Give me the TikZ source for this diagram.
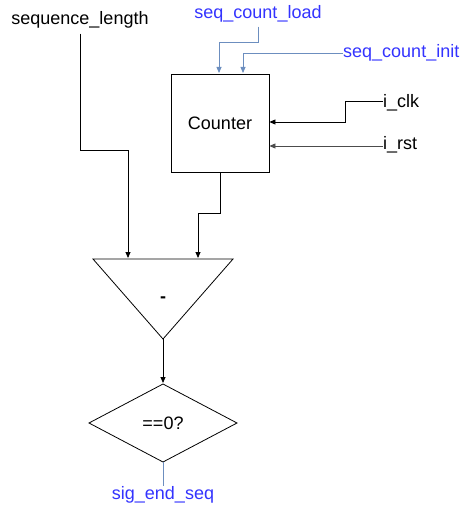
\documentclass[tikz,border=0pt]{standalone}
\usepackage{fontspec}
\setmainfont{Liberation Sans}
\usetikzlibrary{arrows.meta}
\definecolor{sigblue}{HTML}{3333FF}
\definecolor{wireblue}{HTML}{6C8EBF}
\begin{document}
\begin{tikzpicture}[x=1pt,y=-1pt,
  every node/.style={font=\fontsize{18}{21}\selectfont, inner sep=0pt},
  lbl/.style={text=black},
  blbl/.style={text=sigblue},
  wire/.style={draw=black, line width=0.8pt},
  bwire/.style={draw=wireblue, line width=0.8pt},
  arr/.style={-{Triangle[length=6pt,width=5pt]}},
  blockshape/.style={draw=black, line width=0.8pt, fill=white}]
\useasboundingbox (0,0) rectangle (459,508);
% labels
\node[lbl] (seqlen) at (80,20) {sequence\_length};
\node[blbl] (load) at (258,14) {seq\_count\_load};
\node[blbl, anchor=west] (init) at (343,53) {seq\_count\_init};
\node[lbl, anchor=west] (clk) at (383,103) {i\_clk};
\node[lbl, anchor=west] (rst) at (383,145) {i\_rst};
\node[blbl] (endseq) at (163,495) {sig\_end\_seq};
% counter
\node[blockshape, minimum width=98pt, minimum height=98pt] (cnt) at (220,123) {Counter};
% triangle subtractor
\path[blockshape] (93,259) -- (233,259) -- (163,339) -- cycle;
\coordinate (tl) at (128,258);
\coordinate (tr) at (198,258);
\coordinate (tb) at (163,339);
\node[font=\fontsize{18}{21}\selectfont\bfseries] (minus) at (163,300) {-};
% diamond
\path[blockshape] (163,384) -- (237,423) -- (163,462) -- (89,423) -- cycle;
\coordinate (dt) at (163,383);
\coordinate (db) at (163,462);
\node (eq) at (163,423) {==0?};
% connectors
\draw[bwire, arr] (load.south) ++(0,4) |- (219,42) -- (219,73);
\draw[bwire, arr] (init.west) -| (243,73);
\draw[wire, arr] (clk.west) ++(0,-2) -| (345,122) -- (cnt.east |- 0,122);
\draw[wire, draw=black!70, arr] (rst.west) ++(0,1) -- (cnt.east |- 0,146);
\draw[wire, arr] (seqlen.south) ++(0,5) |- (128,150) -- (tl);
\draw[wire, arr] (cnt.south) |- (198,213) -- (tr);
\draw[wire, arr] (tb) -- (dt);
\draw[bwire] (db) -- (endseq.north);
\end{tikzpicture}
\end{document}
